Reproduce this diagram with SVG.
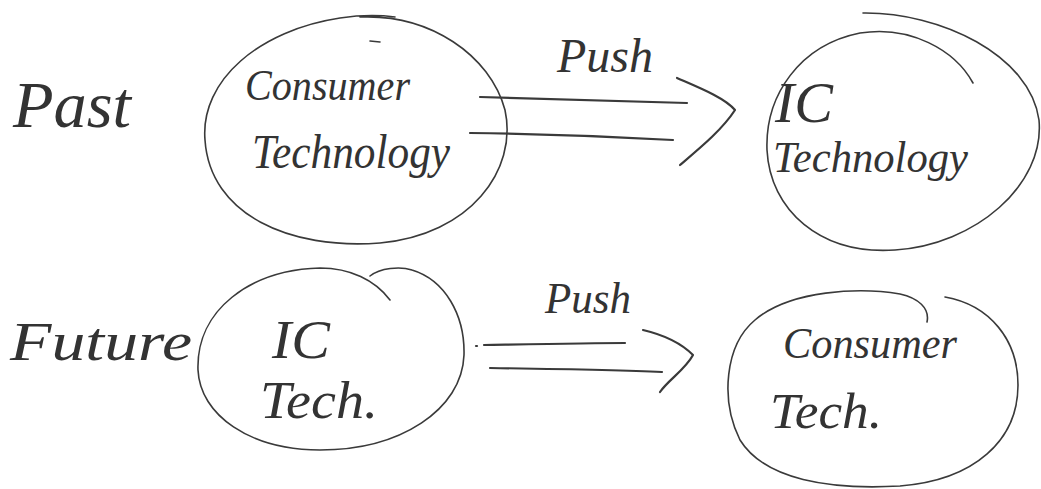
<svg xmlns="http://www.w3.org/2000/svg" width="1041" height="489" viewBox="0 0 1041 489">
  <style>
    .ink { fill: none; stroke: #3a3a3a; stroke-linecap: round; stroke-linejoin: round; }
    .outline { stroke-width: 1.6; }
    .pen { stroke-width: 2.2; }
    .hand { font-family: "Liberation Serif", "DejaVu Serif", serif; font-style: italic; fill: #333333; }
  </style>
  <rect width="1041" height="489" fill="#ffffff"/>

  <!-- row labels -->
  <g id="label-past">
    <text class="hand" x="13" y="127" font-size="66" textLength="118" lengthAdjust="spacingAndGlyphs">Past</text>
  </g>
  <g id="label-future">
    <text class="hand" x="10" y="360" font-size="54" textLength="182" lengthAdjust="spacingAndGlyphs">Future</text>
  </g>

  <!-- top row: consumer tech pushes IC tech -->
  <g id="past-consumer-technology">
    <path class="ink outline" d="M 360,17 C 430,14 490,55 505,110 C 518,170 470,235 380,243 C 290,250 210,215 205,140 C 200,80 260,30 340,18 C 360,15 380,15 395,17"/>
    <path class="ink outline" d="M 370,41 L 380,42"/>
    <text class="hand" x="245" y="100" font-size="44" textLength="165" lengthAdjust="spacingAndGlyphs">Consumer</text>
    <text class="hand" x="252" y="168" font-size="48" textLength="198" lengthAdjust="spacingAndGlyphs">Technology</text>
  </g>
  <g id="past-ic-technology">
    <path class="ink outline" d="M 863,13 C 940,12 1030,55 1039,120 C 1045,185 975,245 895,250 C 820,255 770,210 767,150 C 765,95 800,45 860,33 C 910,25 955,50 973,83"/>
    <text class="hand" x="775" y="122" font-size="58">IC</text>
    <text class="hand" x="773" y="172" font-size="44" textLength="195" lengthAdjust="spacingAndGlyphs">Technology</text>
  </g>

  <!-- bottom row: IC tech pushes consumer tech -->
  <g id="future-ic-tech">
    <path class="ink outline" d="M 370,276 C 380,268 400,266 412,270 C 445,280 465,315 464,355 C 462,410 400,450 320,450 C 250,450 200,415 198,370 C 196,310 250,270 320,268 C 350,268 375,280 390,300"/>
    <text class="hand" x="272" y="358" font-size="54" textLength="58" lengthAdjust="spacingAndGlyphs">IC</text>
    <text class="hand" x="260" y="418" font-size="52" textLength="118" lengthAdjust="spacingAndGlyphs">Tech.</text>
  </g>
  <g id="future-consumer-tech">
    <path class="ink outline" d="M 927,322 C 930,308 918,298 900,294 C 860,287 790,290 755,320 C 725,345 720,400 740,440 C 765,480 830,490 900,486 C 975,480 1018,440 1018,385 C 1018,340 990,305 945,297"/>
    <text class="hand" x="783" y="358" font-size="44" textLength="174" lengthAdjust="spacingAndGlyphs">Consumer</text>
    <text class="hand" x="770" y="428" font-size="50" textLength="112" lengthAdjust="spacingAndGlyphs">Tech.</text>
  </g>

  <!-- push arrows -->
  <g id="connectors">
    <g id="push-past">
      <path class="ink pen" d="M 480,97 C 560,99 630,101 687,103"/>
      <path class="ink pen" d="M 470,133 C 550,134 620,137 673,140"/>
      <path class="ink pen" d="M 677,78 C 700,88 725,98 735,110 C 722,130 700,148 680,165"/>
      <text class="hand" x="557" y="72" font-size="48" textLength="96" lengthAdjust="spacingAndGlyphs">Push</text>
    </g>
    <g id="push-future">
      <path class="ink pen" d="M 476,346 L 477,346"/>
      <path class="ink pen" d="M 484,345 C 540,344 590,343 625,343"/>
      <path class="ink pen" d="M 490,368 C 560,369 620,370 662,372"/>
      <path class="ink pen" d="M 643,330 C 660,334 678,340 693,355 C 685,370 668,380 660,392"/>
      <text class="hand" x="545" y="313" font-size="44" textLength="86" lengthAdjust="spacingAndGlyphs">Push</text>
    </g>
  </g>
</svg>
